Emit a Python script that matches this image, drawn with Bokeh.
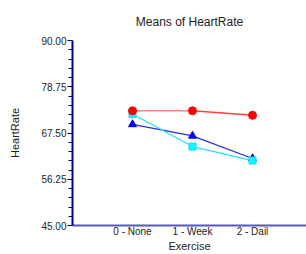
from bokeh.plotting import figure
from bokeh.models import Range1d, FixedTicker, PrintfTickFormatter, Title
from bokeh.embed import file_html
from bokeh.resources import INLINE
import numpy as np

categories = ["0 - None", "1 - Week", "2 - Dail"]
series_blue = [69.6, 66.8, 61.3]
series_cyan = [72.1, 64.2, 60.8]
series_red = [72.9, 72.9, 71.8]
y_ticks = [45.0, 56.25, 67.5, 78.75, 90.0]

xs = list(range(len(categories)))

p = figure(width=306, height=254, output_backend="svg", toolbar_location=None,
           x_range=Range1d(-1, 2.9), y_range=Range1d(45, 90),
           min_border_left=72, min_border_right=0, min_border_top=40, min_border_bottom=29)
p.outline_line_color = None
p.xgrid.visible = False
p.ygrid.visible = False

p.title = Title(text="Means of HeartRate", align="center", text_font="Liberation Sans",
                text_font_size="12px", text_font_style="normal", text_color="#222222",
                standoff=23)

# y axis
minor = []
for a, b in zip(y_ticks[:-1], y_ticks[1:]):
    minor.extend(list(np.linspace(a, b, 6)[1:-1]))
p.yaxis.ticker = FixedTicker(ticks=y_ticks, minor_ticks=minor)
p.yaxis.formatter = PrintfTickFormatter(format="%.2f")
p.yaxis.axis_line_color = "#000080"
p.yaxis.axis_line_width = 2
p.yaxis.major_tick_line_color = "#000080"
p.yaxis.minor_tick_line_color = "#000080"
p.yaxis.major_tick_out = 5
p.yaxis.major_tick_in = 0
p.yaxis.minor_tick_out = 4
p.yaxis.minor_tick_in = 0
p.yaxis.major_label_standoff = 1
p.yaxis.major_label_text_font = "Liberation Sans"
p.yaxis.major_label_text_font_size = "10px"
p.yaxis.major_label_text_color = "#222222"
p.yaxis.axis_label = "HeartRate"
p.yaxis.axis_label_text_font = "Liberation Sans"
p.yaxis.axis_label_text_font_size = "11px"
p.yaxis.axis_label_text_font_style = "normal"
p.yaxis.axis_label_text_color = "#222222"
p.yaxis.axis_label_standoff = 17

# x axis
p.xaxis.ticker = FixedTicker(ticks=xs, minor_ticks=[])
p.xaxis.major_label_overrides = {i: c for i, c in zip(xs, categories)}
p.xaxis.axis_line_color = "#5555C8"
p.xaxis.axis_line_width = 2
p.xaxis.major_tick_line_color = None
p.xaxis.minor_tick_line_color = None
p.xaxis.major_tick_out = 0
p.xaxis.major_tick_in = 0
p.xaxis.major_label_standoff = 0
p.xaxis.major_label_text_font = "Liberation Sans"
p.xaxis.major_label_text_font_size = "10px"
p.xaxis.major_label_text_color = "#222222"
p.xaxis.axis_label = "Exercise"
p.xaxis.axis_label_text_font = "Liberation Sans"
p.xaxis.axis_label_text_font_size = "11px"
p.xaxis.axis_label_text_font_style = "normal"
p.xaxis.axis_label_text_color = "#222222"
p.xaxis.axis_label_standoff = 0

# series
p.line(xs, series_blue, line_color="#2a2ae6", line_width=1.2)
p.scatter(xs, series_blue, marker="triangle", size=8, fill_color="#0000ff", line_color="#0000ff")

p.line(xs, series_cyan, line_color="#20e0ff", line_width=1.2)
p.scatter(xs, series_cyan, marker="square", size=7, fill_color="#00ffff", line_color="#20d0ff")

p.segment(x0=xs[:-1], y0=series_red[:-1], x1=xs[1:], y1=series_red[1:],
          line_color=["#ff8888", "#ff4040"], line_width=1.6)
p.scatter(xs, series_red, marker="circle", size=8, fill_color="#ff0000", line_color="#ff0000")

open("out.html", "w").write(file_html(p, INLINE))
